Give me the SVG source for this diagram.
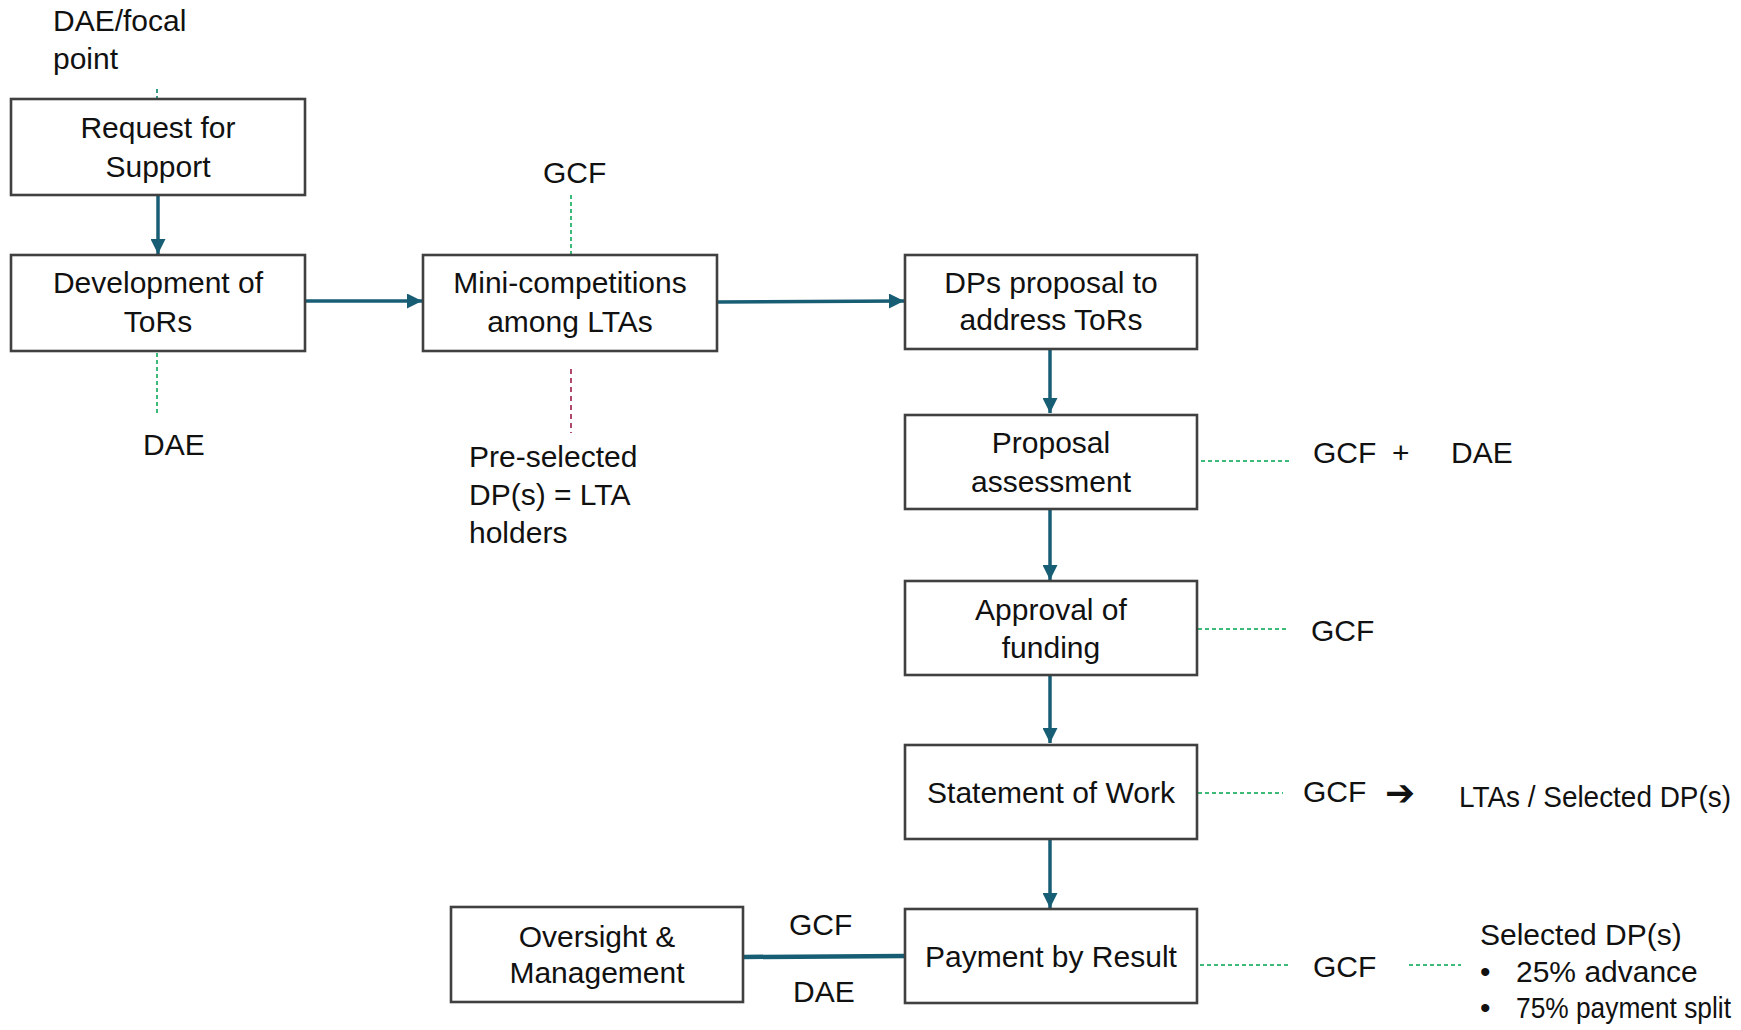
<svg xmlns="http://www.w3.org/2000/svg" width="1741" height="1030" viewBox="0 0 1741 1030">
<style>
.box{fill:#ffffff;stroke:#404040;stroke-width:2.6}
.t{font-family:"Liberation Sans",Arial,sans-serif;font-size:30px;fill:#111111}
.c{text-anchor:middle}
.flow{stroke:#175d74;stroke-width:3.5;fill:none}
.gd{stroke:#3dba78;stroke-width:2;stroke-dasharray:4 3;fill:none}
.td{stroke:#3a9a8a;stroke-width:2;stroke-dasharray:4 3;fill:none}
.rd{stroke:#b04a6c;stroke-width:2;stroke-dasharray:5 4;fill:none}
</style>
<defs>
<marker id="ah" viewBox="0 0 16 16" refX="16" refY="8" markerWidth="16" markerHeight="15" markerUnits="userSpaceOnUse" orient="auto">
<path d="M0,0 L16,8 L0,16 z" fill="#175d74"/>
</marker>
</defs>
<rect width="1741" height="1030" fill="#ffffff"/>

<g id="connectors">
<line class="flow" x1="158" y1="196" x2="158" y2="254" marker-end="url(#ah)"/>
<line class="flow" x1="306" y1="301" x2="422" y2="301" marker-end="url(#ah)"/>
<line class="flow" x1="718" y1="302" x2="904" y2="301" marker-end="url(#ah)"/>
<line class="flow" x1="1050" y1="350" x2="1050" y2="413" marker-end="url(#ah)"/>
<line class="flow" x1="1050" y1="510" x2="1050" y2="580" marker-end="url(#ah)"/>
<line class="flow" x1="1050" y1="676" x2="1050" y2="743" marker-end="url(#ah)"/>
<line class="flow" x1="1050" y1="840" x2="1050" y2="908" marker-end="url(#ah)"/>
<line x1="743" y1="957" x2="905" y2="956" stroke="#175d74" stroke-width="4.5"/>
<line class="td" x1="157" y1="89" x2="157" y2="98"/>
<line class="gd" x1="157" y1="353" x2="157" y2="413"/>
<line class="gd" x1="571" y1="195" x2="571" y2="255"/>
<line class="rd" x1="571" y1="369" x2="571" y2="433"/>
<line class="gd" x1="1201" y1="461" x2="1290" y2="461"/>
<line class="gd" x1="1198" y1="629" x2="1287" y2="629"/>
<line class="gd" x1="1198" y1="793" x2="1283" y2="793"/>
<line class="gd" x1="1200" y1="965" x2="1290" y2="965"/>
<line class="gd" x1="1409" y1="965" x2="1461" y2="965"/>
</g>

<g id="request">
<rect class="box" x="11" y="99" width="294" height="96"/>
<text class="t c" x="158" y="138">Request for</text>
<text class="t c" x="158" y="177">Support</text>
</g>
<g id="development">
<rect class="box" x="11" y="255" width="294" height="96"/>
<text class="t c" x="158" y="293">Development of</text>
<text class="t c" x="158" y="332">ToRs</text>
</g>
<g id="mini">
<rect class="box" x="423" y="255" width="294" height="96"/>
<text class="t c" x="570" y="293">Mini-competitions</text>
<text class="t c" x="570" y="332">among LTAs</text>
</g>
<g id="dps">
<rect class="box" x="905" y="255" width="292" height="94"/>
<text class="t c" x="1051" y="293">DPs proposal to</text>
<text class="t c" x="1051" y="330">address ToRs</text>
</g>
<g id="proposal">
<rect class="box" x="905" y="415" width="292" height="94"/>
<text class="t c" x="1051" y="453">Proposal</text>
<text class="t c" x="1051" y="492">assessment</text>
</g>
<g id="approval">
<rect class="box" x="905" y="581" width="292" height="94"/>
<text class="t c" x="1051" y="620">Approval of</text>
<text class="t c" x="1051" y="658">funding</text>
</g>
<g id="sow">
<rect class="box" x="905" y="745" width="292" height="94"/>
<text class="t c" x="1051" y="803">Statement of Work</text>
</g>
<g id="pbr">
<rect class="box" x="905" y="909" width="292" height="94"/>
<text class="t c" x="1051" y="967">Payment by Result</text>
</g>
<g id="oversight">
<rect class="box" x="451" y="907" width="292" height="95"/>
<text class="t c" x="597" y="947">Oversight &amp;</text>
<text class="t c" x="597" y="983">Management</text>
</g>

<g id="labels">
<text class="t" x="53" y="31">DAE/focal</text>
<text class="t" x="53" y="69">point</text>
<text class="t" x="143" y="455">DAE</text>
<text class="t" x="543" y="183">GCF</text>
<text class="t" x="469" y="467">Pre-selected</text>
<text class="t" x="469" y="505">DP(s) = LTA</text>
<text class="t" x="469" y="543">holders</text>
<text class="t" x="1313" y="463">GCF</text>
<text class="t" x="1392" y="463">+</text>
<text class="t" x="1451" y="463">DAE</text>
<text class="t" x="1311" y="641">GCF</text>
<text class="t" x="1303" y="802">GCF</text>
<text x="1385" y="805" style="font-family:'DejaVu Sans',sans-serif;font-size:36px;font-weight:bold;fill:#111111">➔</text>
<text class="t" x="1459" y="807" textLength="272" lengthAdjust="spacingAndGlyphs">LTAs / Selected DP(s)</text>
<text class="t" x="789" y="935">GCF</text>
<text class="t" x="793" y="1002">DAE</text>
<text class="t" x="1313" y="977">GCF</text>
<text class="t" x="1480" y="945">Selected DP(s)</text>
<text class="t" x="1480" y="982">•</text>
<text class="t" x="1516" y="982">25% advance</text>
<text class="t" x="1480" y="1018">•</text>
<text class="t" x="1516" y="1018" textLength="215" lengthAdjust="spacingAndGlyphs">75% payment split</text>
</g>
</svg>
